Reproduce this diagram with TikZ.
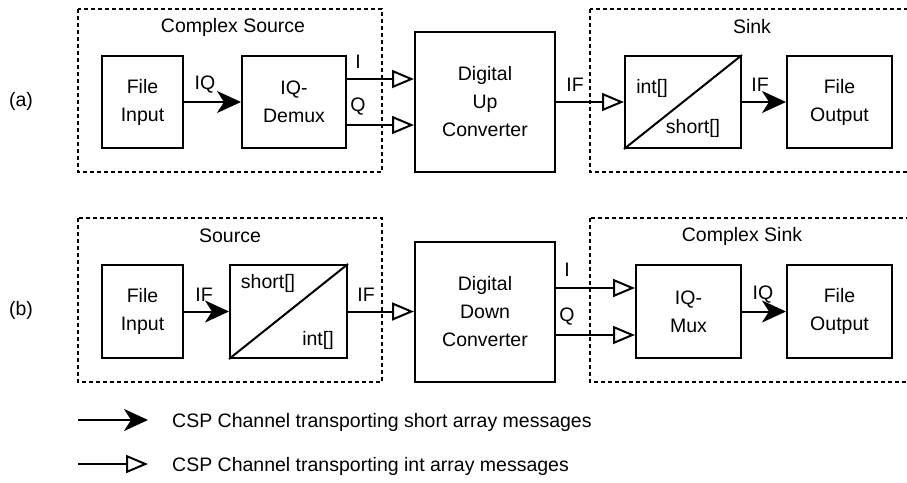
\documentclass[tikz,border=0pt]{standalone}
\usepackage{fontspec}
\setmainfont{Liberation Sans}
\usetikzlibrary{arrows.meta}

\tikzset{
  txt/.style={font=\fontsize{19.5}{28}\selectfont, inner sep=0pt},
  box/.style={txt, draw, line width=2pt, align=center, fill=white},
  group/.style={draw, line width=1.6pt, dash pattern=on 4pt off 3pt},
  conn/.style={line width=2pt},
  shortarr/.style={conn, -{Stealth[length=24pt, width=22pt, inset=7pt]}},
  intarr/.style={conn, -{Triangle[length=22pt, width=18pt, fill=white]}},
}

\begin{document}
\begin{tikzpicture}[x=1pt, y=-1pt]
  \useasboundingbox (0,0) rectangle (907,482);
  \clip (0,0) rectangle (907,482);

  % ---------- dashed component groups ----------
  \draw[group] (78,9)   rectangle (382,172);
  \draw[group] (590,9)  rectangle (915,172);
  \draw[group] (78,218) rectangle (382,382);
  \draw[group] (590,218) rectangle (915,382);

  \node[txt] (gcs) at (233,27)  {Complex Source};
  \node[txt] (gsk) at (752,27)  {Sink};
  \node[txt] (gsr) at (230,236) {Source};
  \node[txt] (gck) at (742,236) {Complex Sink};

  \node[txt] (rowa) at (21,101) {(a)};
  \node[txt] (rowb) at (21,310) {(b)};

  % ---------- row (a): up-conversion ----------
  \node[box, minimum width=81pt,  minimum height=92pt]  (finA)  at (142.5,102) {File\\Input};
  \node[box, minimum width=104pt, minimum height=92pt]  (demux) at (294,102)   {IQ-\\Demux};
  \node[box, minimum width=140pt, minimum height=140pt] (duc)   at (485,102)   {Digital\\Up\\Converter};
  \node[box, minimum width=116pt, minimum height=92pt]  (cvA)   at (683,102)   {};
  \node[box, minimum width=105pt, minimum height=92pt]  (foutA) at (839.5,102) {File\\Output};
  \draw[conn] (cvA.south west) -- (cvA.north east);
  \node[txt] (cvAin)  at (652,88)  {int[]};
  \node[txt] (cvAout) at (693,128) {short[]};

  \draw[shortarr] (finA) -- (demux);
  \draw[intarr] ([yshift=23pt]demux.east) -- ([yshift=23pt]demux.east -| duc.west);
  \draw[intarr] ([yshift=-23pt]demux.east) -- ([yshift=-23pt]demux.east -| duc.west);
  \draw[intarr] (duc) -- (cvA);
  \draw[shortarr] (cvA) -- (foutA);

  \node[txt] (lIQa)  at (205,85)  {IQ};
  \node[txt] (lIa)   at (358,62)  {I};
  \node[txt] (lQa)   at (358,107) {Q};
  \node[txt] (lIFa1) at (575,85)  {IF};
  \node[txt] (lIFa2) at (760,85)  {IF};

  % ---------- row (b): down-conversion ----------
  \node[box, minimum width=81pt,  minimum height=93pt]  (finB)  at (142.5,311.5) {File\\Input};
  \node[box, minimum width=117pt, minimum height=93pt]  (cvB)   at (288.5,311.5) {};
  \node[box, minimum width=140pt, minimum height=140pt] (ddc)   at (485,312)     {Digital\\Down\\Converter};
  \node[box, minimum width=105pt, minimum height=93pt]  (mux)   at (688.5,311.5) {IQ-\\Mux};
  \node[box, minimum width=105pt, minimum height=93pt]  (foutB) at (839.5,311.5) {File\\Output};
  \draw[conn] (cvB.south west) -- (cvB.north east);
  \node[txt] (cvBin)  at (268,283) {short[]};
  \node[txt] (cvBout) at (318,340) {int[]};

  \draw[shortarr] (finB) -- (cvB);
  \draw[intarr] (cvB) -- (cvB -| ddc.west);
  \draw[intarr] ([yshift=24pt]ddc.east) -- ([yshift=24pt]ddc.east -| mux.west);
  \draw[intarr] ([yshift=-23pt]ddc.east) -- ([yshift=-23pt]ddc.east -| mux.west);
  \draw[shortarr] (mux) -- (foutB);

  \node[txt] (lIFb1) at (204,295) {IF};
  \node[txt] (lIFb2) at (366,295) {IF};
  \node[txt] (lIb)   at (567,270) {I};
  \node[txt] (lQb)   at (567,317) {Q};
  \node[txt] (lIQb)  at (763,295) {IQ};

  % ---------- legend ----------
  \coordinate (k1s) at (78,420);
  \coordinate (k1e) at (148,420);
  \coordinate (k2s) at (78,464);
  \coordinate (k2e) at (148,464);
  \draw[shortarr] (k1s) -- (k1e);
  \draw[intarr]   (k2s) -- (k2e);
  \node[txt, anchor=west] (k1t) at (172,422) {CSP Channel transporting short array messages};
  \node[txt, anchor=west] (k2t) at (172,466) {CSP Channel transporting int array messages};
\end{tikzpicture}
\end{document}
